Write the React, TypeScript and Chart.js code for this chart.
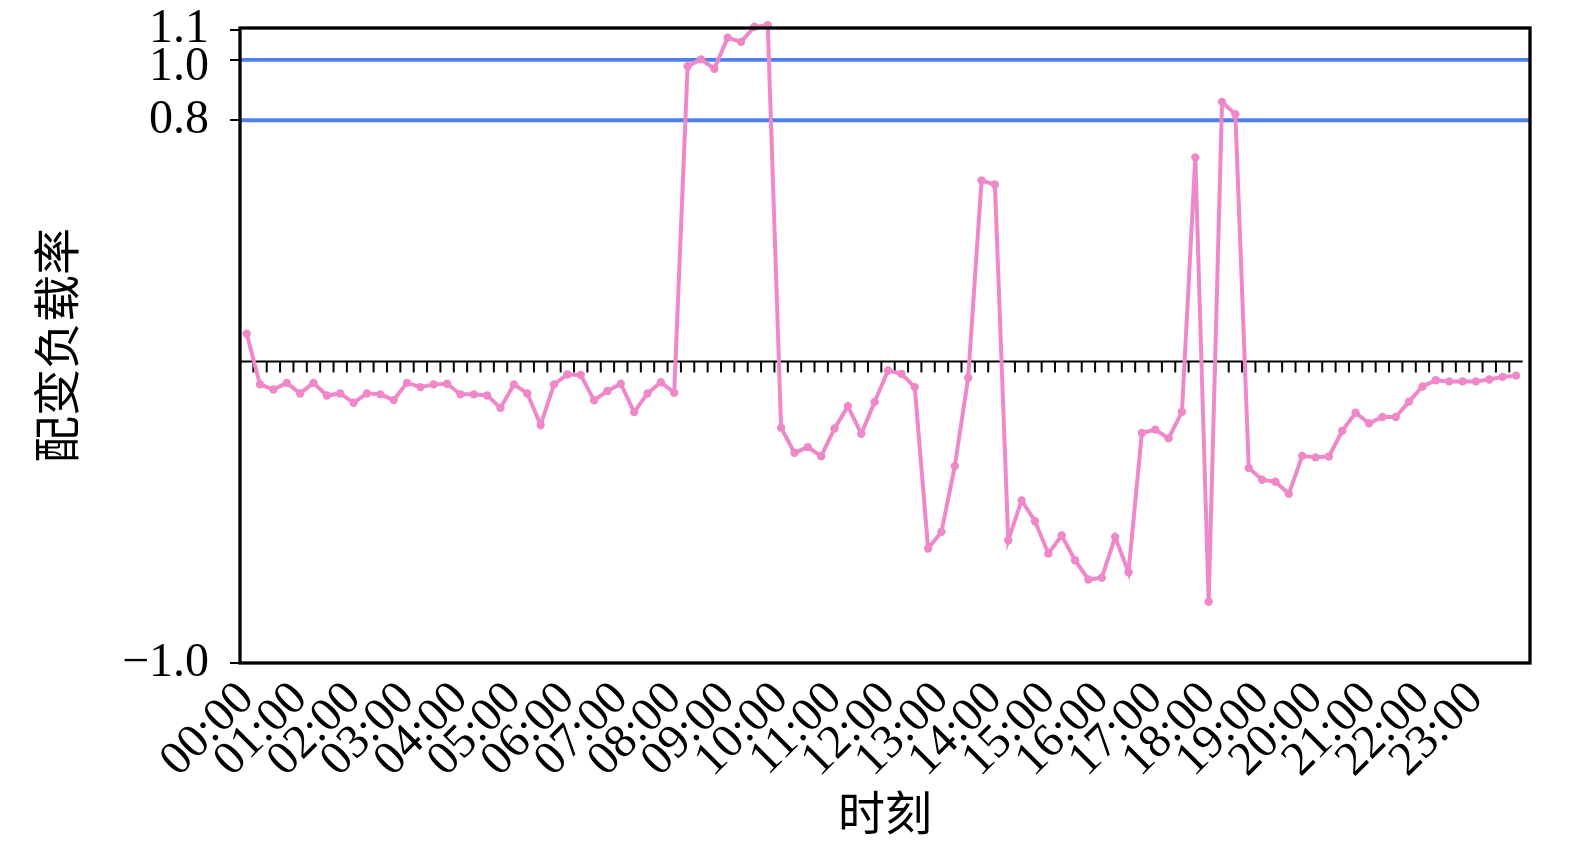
import React, { useEffect, useRef } from 'react';
import { Chart, registerables } from 'chart.js';

Chart.register(...registerables);

const hourLabels = [
  '00:00', '01:00', '02:00', '03:00', '04:00', '05:00', '06:00', '07:00',
  '08:00', '09:00', '10:00', '11:00', '12:00', '13:00', '14:00', '15:00',
  '16:00', '17:00', '18:00', '19:00', '20:00', '21:00', '22:00', '23:00',
];

// 96 quarter-hour samples
const loadRate = [
  0.092, -0.076, -0.093, -0.071, -0.106, -0.071, -0.113, -0.106,
  -0.137, -0.106, -0.109, -0.128, -0.071, -0.085, -0.076, -0.074,
  -0.109, -0.109, -0.113, -0.154, -0.076, -0.106, -0.211, -0.076,
  -0.043, -0.045, -0.129, -0.098, -0.074, -0.168, -0.106, -0.069,
  -0.104, 0.979, 1.002, 0.971, 1.074, 1.060, 1.110, 1.115,
  -0.220, -0.303, -0.284, -0.314, -0.222, -0.148, -0.240, -0.134,
  -0.030, -0.041, -0.085, -0.620, -0.565, -0.347, -0.054, 0.600,
  0.587, -0.593, -0.461, -0.530, -0.637, -0.577, -0.659, -0.723,
  -0.717, -0.582, -0.699, -0.237, -0.226, -0.255, -0.167, 0.677,
  -0.797, 0.861, 0.820, -0.353, -0.392, -0.399, -0.439, -0.313,
  -0.318, -0.315, -0.230, -0.170, -0.205, -0.184, -0.184, -0.133,
  -0.083, -0.062, -0.066, -0.066, -0.066, -0.060, -0.051, -0.047,
];

const thresholds = [1.0, 0.8];
const yTicks = [-1.0, 0.8, 1.0, 1.1];
const yMin = -1.0;
const yMax = 1.106;
const xMin = -0.5;
const xMax = 96.05;

const LATIN = "'Liberation Serif', 'Times New Roman', serif";
const CJK = "'Liberation Serif', 'Noto Sans CJK SC', serif";
const PINK = '#ef88c9';

export default function App() {
  const ref = useRef<HTMLCanvasElement>(null);

  useEffect(() => {
    if (!ref.current) return;

    const refLines = {
      id: 'refLines',
      beforeDatasetsDraw(chart: any) {
        const { ctx, chartArea, scales } = chart;
        const x = scales.x;
        const y = scales.y;
        ctx.save();
        ctx.strokeStyle = '#4f7fe8';
        ctx.lineWidth = 3.8;
        thresholds.forEach((t) => {
          const py = y.getPixelForValue(t);
          ctx.beginPath();
          ctx.moveTo(chartArea.left, py);
          ctx.lineTo(chartArea.right, py);
          ctx.stroke();
        });
        const py0 = y.getPixelForValue(0);
        ctx.strokeStyle = '#000';
        ctx.lineWidth = 2.2;
        ctx.beginPath();
        ctx.moveTo(chartArea.left, py0);
        ctx.lineTo(x.getPixelForValue(loadRate.length - 0.5), py0);
        ctx.stroke();
        ctx.lineWidth = 2;
        for (let i = 0; i < loadRate.length - 1; i++) {
          const px = x.getPixelForValue(i + 0.5);
          ctx.beginPath();
          ctx.moveTo(px, py0);
          ctx.lineTo(px, py0 + 11);
          ctx.stroke();
        }
        ctx.restore();
      },
      afterDraw(chart: any) {
        const { ctx, chartArea } = chart;
        ctx.save();
        ctx.strokeStyle = '#000';
        ctx.lineWidth = 3.3;
        ctx.strokeRect(
          chartArea.left,
          chartArea.top,
          chartArea.right - chartArea.left,
          chartArea.bottom - chartArea.top
        );
        ctx.restore();
      },
    };

    const chart = new Chart(ref.current, {
      type: 'line',
      data: {
        datasets: [
          {
            data: loadRate.map((v, i) => ({ x: i, y: v })),
            borderColor: PINK,
            backgroundColor: PINK,
            borderWidth: 4,
            pointRadius: 4.2,
            pointBorderWidth: 0,
            pointBackgroundColor: PINK,
            tension: 0,
            clip: false as any,
          },
        ],
      },
      options: {
        responsive: true,
        maintainAspectRatio: false,
        animation: false,
        layout: { padding: { top: 28, right: 45, left: 0, bottom: 0 } },
        plugins: {
          legend: { display: false },
          tooltip: { enabled: false },
        },
        scales: {
          x: {
            type: 'linear',
            min: xMin,
            max: xMax,
            grid: { display: false, drawTicks: false },
            border: { display: false },
            afterBuildTicks: (scale: any) => {
              scale.ticks = hourLabels.map((_, i) => ({ value: i * 4 }));
            },
            afterFit: (scale: any) => {
              scale.height = 179;
              scale.paddingLeft = 0;
              scale.paddingRight = 0;
              scale.paddingTop = 0;
              scale.paddingBottom = 0;
            },
            ticks: {
              autoSkip: false,
              maxRotation: 45,
              minRotation: 45,
              padding: 8,
              color: '#000',
              font: { family: LATIN, size: 48 },
              callback: (value: any) => hourLabels[Math.round(Number(value) / 4)] ?? '',
            },
            title: {
              display: true,
              text: '时刻',
              color: '#000',
              font: { family: CJK, size: 47, lineHeight: 1 },
              padding: { top: 0, bottom: 1 },
            },
          },
          y: {
            type: 'linear',
            min: yMin,
            max: yMax,
            grid: {
              drawOnChartArea: false,
              drawTicks: true,
              tickLength: 10,
              color: '#000',
              lineWidth: 2,
            },
            border: { display: false },
            afterBuildTicks: (scale: any) => {
              scale.ticks = yTicks.map((v) => ({ value: v }));
            },
            afterFit: (scale: any) => {
              scale.width = 240;
              scale.paddingLeft = 0;
              scale.paddingRight = 0;
              scale.paddingTop = 0;
              scale.paddingBottom = 0;
            },
            ticks: {
              padding: 21,
              color: '#000',
              font: { family: LATIN, size: 48, lineHeight: '14px' },
              callback: (value: any) => {
                const n = Number(value);
                const s = Math.abs(n).toFixed(1);
                const label = n < 0 ? '\u2212' + s : s;
                // the 1.0 label sits a little below its tick in the reference
                return Math.abs(n - 1.0) < 1e-9 ? ['', label] : label;
              },
            },
            title: {
              display: true,
              text: '配变负载率',
              color: '#000',
              font: { family: CJK, size: 47, lineHeight: 1 },
              padding: { top: 38, bottom: 0 },
            },
          },
        },
      },
      plugins: [refLines],
    });

    return () => chart.destroy();
  }, []);

  return (
    <div
      style={{
        position: 'fixed',
        left: 0,
        top: 0,
        width: '1575px',
        height: '842px',
        background: '#fff',
      }}
    >
      <canvas ref={ref} />
    </div>
  );
}
